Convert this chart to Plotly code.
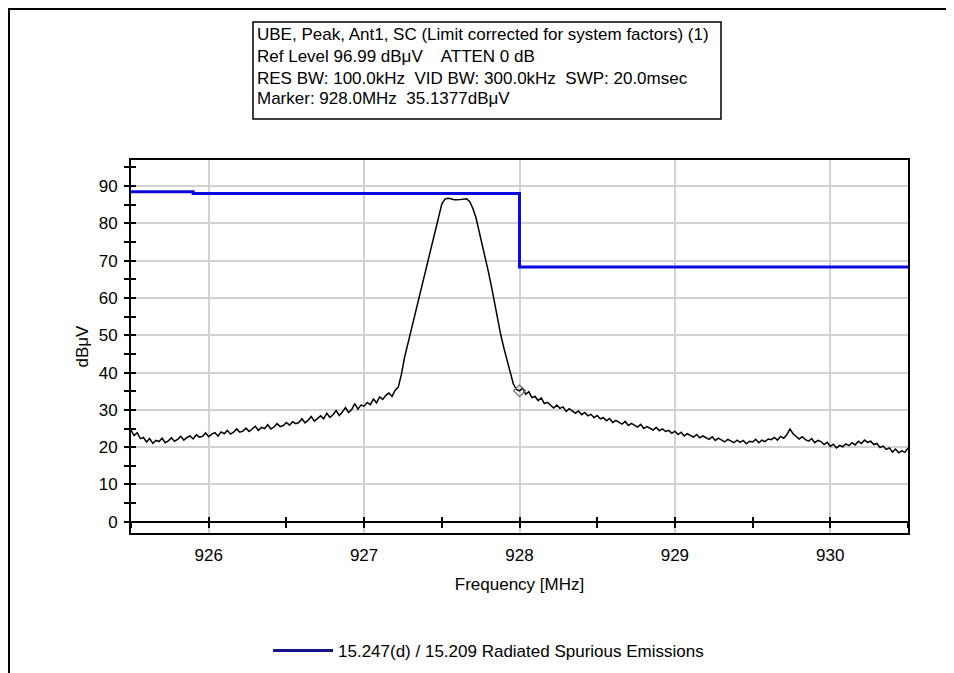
import numpy as np
import plotly.graph_objects as go

# ---------------- data ----------------
freq_start = 925.5
freq_step = 0.02
level_dbuv = [
    # 925.50 - 926.00
    24.6, 23.1, 23.9, 22.3, 22.6, 21.4, 22.3, 21.0, 21.8, 21.5,
    22.4, 21.2, 21.7, 22.5, 21.6, 22.1, 22.9, 21.9, 22.6, 23.0,
    22.2, 23.3, 22.7, 22.9, 23.8, 22.8,
    # 926.02 - 926.50
    23.5, 23.9, 23.0, 24.1, 23.6, 24.5, 23.5, 24.0, 24.9, 24.0,
    24.3, 25.1, 24.2, 24.8, 25.6, 24.5, 25.3, 25.0, 26.0, 24.9,
    25.4, 26.3, 25.5, 25.8, 26.6,
    # 926.52 - 927.00
    25.9, 26.8, 26.3, 26.6, 27.6, 26.5, 27.2, 28.2, 27.0, 27.8,
    28.4, 27.6, 29.1, 28.0, 28.7, 29.8, 28.5, 29.4, 30.6, 29.3,
    30.1, 31.7, 30.2, 31.3, 31.0,
    # 927.02 - 927.22
    32.0, 31.4, 32.9, 31.9, 33.5, 32.8, 33.9, 34.5, 33.6, 35.3, 36.1,
    # 927.24 - 928.00 (carrier)
    39.5, 44.0, 47.5, 50.5, 54.0, 57.5, 61.0, 64.5, 68.0, 71.5,
    75.0, 78.5, 82.5, 85.2, 86.5, 86.7, 86.6, 86.3, 86.3, 86.4,
    86.7, 86.6, 85.8, 84.0, 81.5, 78.0, 74.5, 71.0, 67.0, 63.0,
    58.5, 54.0, 50.0, 46.5, 43.5, 40.0, 37.0, 35.5, 35.1,
    # 928.02 - 928.50
    35.8, 34.2, 34.9, 33.3, 33.6, 32.5, 33.2, 31.7, 32.0, 31.2,
    30.5, 31.3, 30.4, 30.8, 29.6, 30.3, 29.8, 29.1, 29.7, 28.7,
    29.3, 28.4, 28.8, 27.9, 28.5,
    # 928.52 - 929.00
    27.6, 27.9, 27.1, 27.7, 26.6, 27.2, 26.8, 26.2, 26.9, 25.8,
    26.4, 25.9, 25.4, 26.1, 25.0, 25.5, 25.1, 24.6, 25.3, 24.4,
    24.9, 24.2, 24.5, 23.7, 24.3,
    # 929.02 - 929.60
    23.4, 24.0, 23.0, 23.6, 23.2, 22.7, 23.4, 22.5, 23.0, 22.6,
    22.1, 22.8, 21.8, 22.4, 22.0, 21.4, 22.1, 21.7, 21.2, 21.9,
    21.3, 21.8, 20.9, 21.6, 21.4, 22.1, 21.2, 21.9, 21.5, 22.2,
    # 929.62 - 930.50
    22.0, 22.6, 21.9, 22.9, 22.4, 23.3, 24.9, 23.6, 23.0, 22.2,
    22.8, 22.0, 21.6, 22.3, 21.2, 21.8, 21.5, 20.7, 21.3, 20.2,
    20.8, 19.8, 20.5, 20.1, 20.9, 20.4, 21.2, 20.6, 21.6, 21.0,
    21.9, 21.3, 21.6, 20.7, 21.0, 19.9, 20.3, 19.4, 19.8, 18.7,
    19.5, 18.5, 19.0, 18.6, 19.8,
]
freq_mhz = freq_start + freq_step * np.arange(len(level_dbuv))

limit_freq = [925.5, 925.9, 928.0, 930.5]
limit_dbuv = [88.5, 88.0, 68.3, 68.3]
limit_name = "15.247(d) / 15.209 Radiated Spurious Emissions"

marker_freq = [928.0]
marker_dbuv = [35.1377]

header_lines = [
    "UBE, Peak, Ant1, SC (Limit corrected for system factors) (1)",
    "Ref Level 96.99 dB\u03bcV    ATTEN 0 dB",
    "RES BW: 100.0kHz  VID BW: 300.0kHz  SWP: 20.0msec",
    "Marker: 928.0MHz  35.1377dB\u03bcV",
]

x_range = [925.5, 930.5]
y_range = [-3.01, 96.99]

# ---------------- layout geometry (page pixels) ----------------
OFF = 8                      # page body margin
W, H = 954 - OFF, 673 - OFF  # figure size
PL, PR, PT, PB = 131, 908, 160, 533   # plot area in page pixels
L, R, T, B = PL - OFF, PR - OFF, PT - OFF, PB - OFF


def px(xpage):
    return (xpage - PL) / (PR - PL)


def py(ypage):
    return (PB - ypage) / (PB - PT)


FONT = "Arial, Liberation Sans, sans-serif"
FS = 17

fig = go.Figure()

fig.add_trace(go.Scatter(
    x=freq_mhz, y=level_dbuv, mode="lines",
    line=dict(color="black", width=1.5), showlegend=False, hoverinfo="skip"))

fig.add_trace(go.Scatter(
    x=limit_freq, y=limit_dbuv, mode="lines", line_shape="hv",
    line=dict(color="#0a0ae0", width=3), showlegend=False, name=limit_name))

fig.add_trace(go.Scatter(
    x=marker_freq, y=marker_dbuv, mode="markers",
    marker=dict(symbol="diamond-open", size=9, color="#707070",
                line=dict(width=1.2, color="#707070")),
    showlegend=False))

# legend-only entry
fig.add_trace(go.Scatter(
    x=[None], y=[None], mode="lines", name=limit_name,
    line=dict(color="#14148c", width=3), showlegend=True))

# helper traces for tick axes
fig.add_trace(go.Scatter(x=[None], y=[None], xaxis="x2", yaxis="y", showlegend=False))
fig.add_trace(go.Scatter(x=[None], y=[None], xaxis="x3", yaxis="y", showlegend=False))
fig.add_trace(go.Scatter(x=[None], y=[None], xaxis="x", yaxis="y2", showlegend=False))

zero_pos = (0 - y_range[0]) / (y_range[1] - y_range[0])

annotations = []
line_y = [34, 56, 78, 99]
for txt, yy in zip(header_lines, line_y):
    annotations.append(dict(
        text=txt, xref="paper", yref="paper", x=px(255), y=py(yy),
        xanchor="left", yanchor="middle", showarrow=False,
        font=dict(family=FONT, size=FS, color="black")))

shapes = [
    dict(type="rect", xref="paper", yref="paper",
         x0=px(253), x1=px(721), y0=py(119), y1=py(22),
         line=dict(color="black", width=1.5)),
    dict(type="rect", xref="paper", yref="paper",
         x0=px(OFF + 1), x1=px(949), y0=py(700), y1=py(OFF + 1),
         line=dict(color="black", width=2)),
]

grid_col = "#d2d2d2"
fig.update_layout(
    width=W, height=H,
    margin=dict(l=L, r=W - R, t=T, b=H - B, autoexpand=False),
    paper_bgcolor="white", plot_bgcolor="white",
    font=dict(family=FONT, size=FS, color="black"),
    xaxis=dict(range=x_range, dtick=1, tick0=926, showgrid=True, gridcolor=grid_col,
               gridwidth=2, showline=True, linecolor="black", linewidth=2, mirror=True,
               ticks="", ticklabelstandoff=6, zeroline=False,
               title=dict(text="Frequency [MHz]", standoff=14, font=dict(size=FS)),
               tickfont=dict(size=FS)),
    xaxis2=dict(overlaying="x", matches="x", anchor="free", position=zero_pos,
                showgrid=False, showline=False, zeroline=False, showticklabels=False,
                dtick=0.5, tick0=926, ticks="outside", ticklen=5, tickwidth=1.5, tickcolor="black"),
    xaxis3=dict(overlaying="x", matches="x", anchor="free", position=zero_pos,
                showgrid=False, showline=False, zeroline=False, showticklabels=False,
                dtick=0.5, tick0=926, ticks="inside", ticklen=5, tickwidth=1.5, tickcolor="black"),
    yaxis=dict(range=y_range, dtick=10, tick0=0, showgrid=True, gridcolor=grid_col,
               gridwidth=2, showline=True, linecolor="black", linewidth=2, mirror=True,
               ticks="outside", ticklen=5, tickwidth=1.5, tickcolor="black",
               minor=dict(dtick=5, ticks="outside", ticklen=5, tickwidth=1.5,
                          tickcolor="black", showgrid=False),
               zeroline=True, zerolinecolor="black", zerolinewidth=2,
               ticklabelstandoff=3,
               title=dict(text="dB\u03bcV", standoff=6, font=dict(size=FS)),
               tickfont=dict(size=FS)),
    yaxis2=dict(overlaying="y", matches="y", side="left", showgrid=False, showline=False,
                zeroline=False, showticklabels=False, dtick=5, tick0=0,
                ticks="inside", ticklen=5, tickwidth=1.5, tickcolor="black"),
    legend=dict(orientation="h", x=px(268), xanchor="left", y=py(651), yanchor="middle",
                font=dict(family=FONT, size=FS, color="black"), bgcolor="rgba(0,0,0,0)",
                itemwidth=60),
    annotations=annotations,
    shapes=shapes,
)

fig.write_html("out.html")
